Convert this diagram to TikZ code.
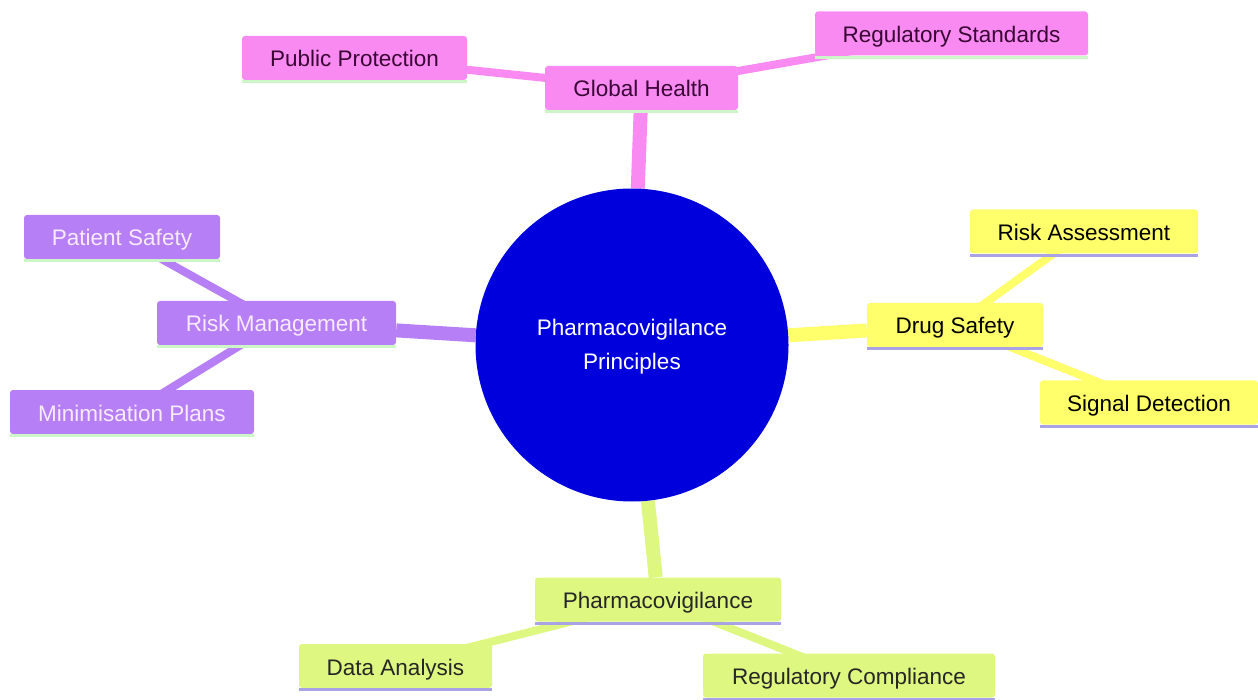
\documentclass[tikz,border=0pt]{standalone}
\usepackage{fontspec}
\setmainfont{Liberation Sans}
\usetikzlibrary{backgrounds}
\definecolor{cpink}{HTML}{F98AF2}
\definecolor{cpurple}{HTML}{B77FF5}
\definecolor{cyellow}{HTML}{FFFF6B}
\definecolor{cgreen}{HTML}{DDF780}
\definecolor{cblue}{HTML}{0000DD}
\definecolor{tpink}{HTML}{3A0636}
\definecolor{tpurple}{HTML}{F8EAFF}
\definecolor{ulgreen}{HTML}{CCF5C8}
\definecolor{ullav}{HTML}{A9A3E6}
\tikzset{
  box/.style={rounded corners=3pt, inner sep=0pt, minimum height=44pt, text height=22pt, text depth=4pt, font=\fontsize{22.5}{27}\selectfont},
  pinkbox/.style={box, fill=cpink, text=tpink},
  purplebox/.style={box, fill=cpurple, text=tpurple},
  yellowbox/.style={box, fill=cyellow, text=black},
  greenbox/.style={box, fill=cgreen, text=black!85},
  mainedge/.style={line width=14pt},
  subedge/.style={line width=8pt},
  uline/.style={line width=3pt}
}
\begin{document}
\begin{tikzpicture}[x=1pt,y=-1pt]
\useasboundingbox (0,0) rectangle (1258,700);
% center
\node[circle, fill=cblue, minimum size=313pt, inner sep=0pt] (c) at (632,345) {};
\node[text=white, align=center, font=\fontsize{22.5}{34}\selectfont] (ct) at (632,347) {Pharmacovigilance\\Principles};
% level 1
\node[pinkbox, minimum width=193pt] (gh) at (641.5,88) {Global Health};
\node[purplebox, minimum width=239pt] (rm) at (276.5,323) {Risk Management};
\node[yellowbox, minimum width=176pt] (ds) at (955,325) {Drug Safety};
\node[greenbox, minimum width=246pt] (pv) at (658,599.5) {Pharmacovigilance};
% level 2
\node[pinkbox, minimum width=225pt] (pp) at (354.5,58) {Public Protection};
\node[pinkbox, minimum width=273pt] (rs) at (951.5,33.5) {Regulatory Standards};
\node[purplebox, minimum width=196pt] (ps) at (122,237) {Patient Safety};
\node[purplebox, minimum width=244pt] (mp) at (132,412) {Minimisation Plans};
\node[yellowbox, minimum width=228pt] (ra) at (1084,231.5) {Risk Assessment};
\node[yellowbox, minimum width=218pt] (sd) at (1149,402.5) {Signal Detection};
\node[greenbox, minimum width=193pt] (da) at (395.5,666) {Data Analysis};
\node[greenbox, minimum width=292pt] (rc) at (849,675.5) {Regulatory Compliance};
% underlines
\foreach \n in {gh,pp,rs,rm,ps,mp}{
  \draw[uline, ulgreen] ([yshift=-1.5pt]\n.south west) -- ([yshift=-1.5pt]\n.south east);
}
\foreach \n in {ds,ra,sd,pv,da,rc}{
  \draw[uline, ullav] ([yshift=-1.5pt]\n.south west) -- ([yshift=-1.5pt]\n.south east);
}
\begin{scope}[on background layer]
  \draw[mainedge, cpink] (c) -- (gh);
  \draw[mainedge, cpurple] (c) -- (rm);
  \draw[mainedge, cyellow] (c) -- (ds);
  \draw[mainedge, cgreen] (c) -- (pv);
  \draw[subedge, cpink] (gh.center) -- (pp.center);
  \draw[subedge, cpink] (gh.center) -- (rs.center);
  \draw[subedge, cpurple] (rm.center) -- (ps.center);
  \draw[subedge, cpurple] (rm.center) -- (mp.center);
  \draw[subedge, cyellow] (ds.center) -- (ra.center);
  \draw[subedge, cyellow] (ds.center) -- (sd.center);
  \draw[subedge, cgreen] (pv.center) -- (da.center);
  \draw[subedge, cgreen] (pv.center) -- (rc.center);
\end{scope}
\end{tikzpicture}
\end{document}
